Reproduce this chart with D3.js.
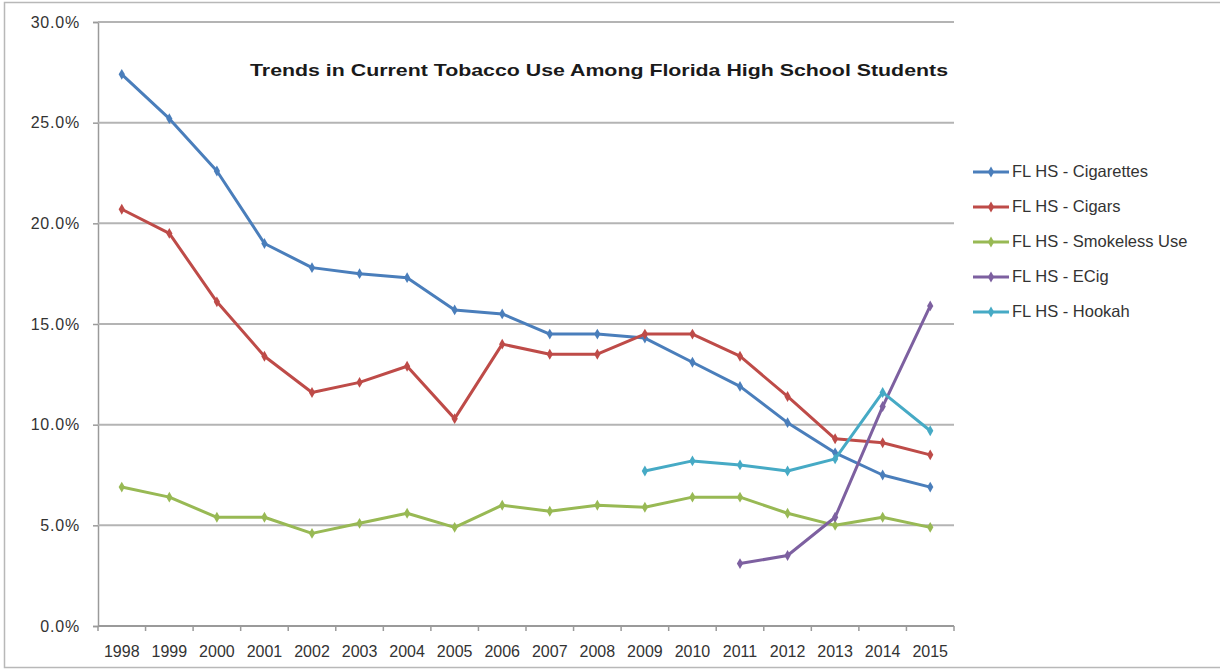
<!DOCTYPE html>
<html>
<head>
<meta charset="utf-8">
<script src="https://cdn.jsdelivr.net/npm/d3@7"></script>
<style>
  html, body { margin: 0; padding: 0; background: #fff; }
  svg { display: block; }
  text { font-family: "Liberation Sans", Arial, sans-serif; }
</style>
</head>
<body>
<div id="chart"></div>
<script>
const years = ['1998', '1999', '2000', '2001', '2002', '2003', '2004', '2005', '2006',
  '2007', '2008', '2009', '2010', '2011', '2012', '2013', '2014', '2015'];

const cigarettes = [27.4, 25.2, 22.6, 19.0, 17.8, 17.5, 17.3, 15.7, 15.5,
  14.5, 14.5, 14.3, 13.1, 11.9, 10.1, 8.6, 7.5, 6.9];
const cigars = [20.7, 19.5, 16.1, 13.4, 11.6, 12.1, 12.9, 10.3, 14.0,
  13.5, 13.5, 14.5, 14.5, 13.4, 11.4, 9.3, 9.1, 8.5];
const smokeless = [6.9, 6.4, 5.4, 5.4, 4.6, 5.1, 5.6, 4.9, 6.0,
  5.7, 6.0, 5.9, 6.4, 6.4, 5.6, 5.0, 5.4, 4.9];
const ecig = [null, null, null, null, null, null, null, null, null,
  null, null, null, null, 3.1, 3.5, 5.4, 10.9, 15.9];
const hookah = [null, null, null, null, null, null, null, null, null,
  null, null, 7.7, 8.2, 8.0, 7.7, 8.3, 11.6, 9.7];

const yTicks = [0, 5, 10, 15, 20, 25, 30];
const title = 'Trends in Current Tobacco Use Among Florida High School Students';

const series = [
  {name: 'FL HS - Cigarettes', values: cigarettes, color: '#4a7ebb'},
  {name: 'FL HS - Cigars', values: cigars, color: '#be4b48'},
  {name: 'FL HS - Smokeless Use', values: smokeless, color: '#98b954'},
  {name: 'FL HS - ECig', values: ecig, color: '#7d60a0'},
  {name: 'FL HS - Hookah', values: hookah, color: '#46aac5'}
];

const config = {
  totalWidth: 1220,
  totalHeight: 669,
  plot: {left: 98, right: 954, top: 22, bottom: 626},
  legend: {x: 973, y: 172, step: 35}
};

const svg = d3.select('#chart').append('svg')
  .attr('width', config.totalWidth)
  .attr('height', config.totalHeight);

// outer frame
svg.append('rect')
  .attr('x', 4.5).attr('y', 2.5)
  .attr('width', config.totalWidth).attr('height', 665)
  .attr('fill', 'none')
  .attr('stroke', '#b8b8b8')
  .attr('stroke-width', 1.5);

const xScale = d3.scaleBand()
  .domain(years)
  .range([config.plot.left, config.plot.right]);

const yScale = d3.scaleLinear()
  .domain([0, 30])
  .range([config.plot.bottom, config.plot.top]);

// gridlines + y axis
const yAxis = svg.append('g')
  .attr('transform', `translate(${config.plot.left},0)`)
  .call(d3.axisLeft(yScale)
    .tickValues(yTicks)
    .tickSize(5)
    .tickPadding(13)
    .tickFormat(d => d.toFixed(1) + '%'));
yAxis.select('.domain').attr('stroke', '#9a9a9a').attr('stroke-width', 1.5);
yAxis.selectAll('.tick line').attr('stroke', '#9a9a9a').attr('stroke-width', 1.5);
yAxis.selectAll('.tick text')
  .attr('font-size', 16).attr('fill', '#333')
  .attr('letter-spacing', 0.8);

svg.append('g')
  .selectAll('line')
  .data(yTicks.filter(d => d > 0))
  .enter()
  .append('line')
  .attr('x1', config.plot.left)
  .attr('x2', config.plot.right)
  .attr('y1', d => yScale(d))
  .attr('y2', d => yScale(d))
  .attr('stroke', '#b4b4b4')
  .attr('stroke-width', 2);

// x axis, ticks sit between categories
const xAxisG = svg.append('g')
  .attr('transform', `translate(0,${config.plot.bottom})`);
xAxisG.append('line')
  .attr('x1', config.plot.left).attr('x2', config.plot.right)
  .attr('stroke', '#9a9a9a').attr('stroke-width', 2);
xAxisG.selectAll('.xtick')
  .data(years.concat(['end']))
  .enter()
  .append('line')
  .attr('x1', (d, i) => config.plot.left + i * xScale.bandwidth())
  .attr('x2', (d, i) => config.plot.left + i * xScale.bandwidth())
  .attr('y1', 0).attr('y2', 5)
  .attr('stroke', '#9a9a9a').attr('stroke-width', 1.5);
xAxisG.selectAll('.xlabel')
  .data(years)
  .enter()
  .append('text')
  .attr('x', d => xScale(d) + xScale.bandwidth() / 2)
  .attr('y', 31)
  .attr('text-anchor', 'middle')
  .attr('font-size', 16)
  .attr('fill', '#333')
  .text(d => d);

// lines
const line = d3.line()
  .defined(d => d.v !== null)
  .x(d => xScale(d.year) + xScale.bandwidth() / 2)
  .y(d => yScale(d.v));

const marker = d3.symbol().type(d3.symbolDiamond).size(34);

series.forEach(s => {
  const pts = years.map((year, i) => ({year, v: s.values[i]}));
  svg.append('path')
    .datum(pts)
    .attr('fill', 'none')
    .attr('stroke', s.color)
    .attr('stroke-width', 3)
    .attr('stroke-linejoin', 'round')
    .attr('d', line);
  svg.append('g')
    .selectAll('path')
    .data(pts.filter(d => d.v !== null))
    .enter()
    .append('path')
    .attr('d', marker)
    .attr('transform', d => `translate(${xScale(d.year) + xScale.bandwidth() / 2},${yScale(d.v)})`)
    .attr('fill', s.color);
});

// title
svg.append('text')
  .attr('x', 250)
  .attr('y', 76)
  .attr('font-size', 17)
  .attr('font-weight', 'bold')
  .attr('fill', '#1a1a1a')
  .attr('textLength', 698)
  .attr('lengthAdjust', 'spacingAndGlyphs')
  .text(title);

// legend
const legend = svg.append('g');
series.forEach((s, i) => {
  const y = config.legend.y + i * config.legend.step;
  legend.append('line')
    .attr('x1', config.legend.x).attr('x2', config.legend.x + 36)
    .attr('y1', y).attr('y2', y)
    .attr('stroke', s.color).attr('stroke-width', 3);
  legend.append('path')
    .attr('d', marker)
    .attr('transform', `translate(${config.legend.x + 18},${y})`)
    .attr('fill', s.color);
  legend.append('text')
    .attr('x', config.legend.x + 39)
    .attr('y', y + 5)
    .attr('font-size', 16.5)
    .attr('fill', '#333')
    .text(s.name);
});
</script>
</body>
</html>
